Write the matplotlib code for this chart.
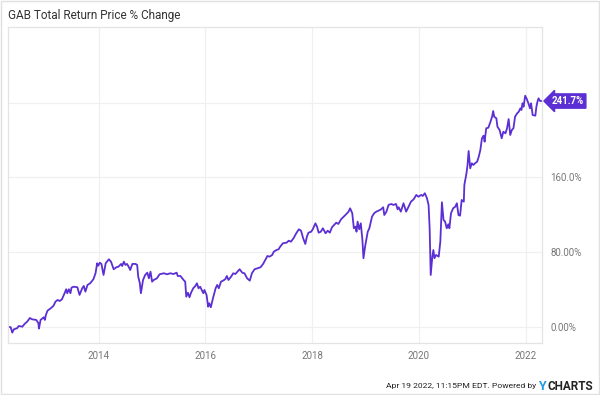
import matplotlib
matplotlib.use("Agg")
import matplotlib.pyplot as plt
import matplotlib.transforms as mtransforms
from matplotlib.patches import Rectangle

# decimal year / total return % change
years = [
    2012.30, 2012.35, 2012.38, 2012.41, 2012.47, 2012.50, 2012.57, 2012.61, 2012.66, 2012.71,
    2012.75, 2012.83, 2012.87, 2012.88, 2012.91, 2012.97, 2012.99, 2013.01, 2013.04, 2013.10,
    2013.15, 2013.19, 2013.23, 2013.27, 2013.31, 2013.36, 2013.39, 2013.41, 2013.44, 2013.47,
    2013.49, 2013.53, 2013.60, 2013.64, 2013.69, 2013.72, 2013.75, 2013.79, 2013.84, 2013.90,
    2013.94, 2013.97, 2013.99, 2014.02, 2014.05, 2014.09, 2014.13, 2014.19, 2014.23, 2014.28,
    2014.33, 2014.37, 2014.42, 2014.44, 2014.47, 2014.50, 2014.53, 2014.56, 2014.59, 2014.63,
    2014.69, 2014.72, 2014.74, 2014.77, 2014.79, 2014.83, 2014.87, 2014.91, 2014.94, 2014.97,
    2015.00, 2015.03, 2015.09, 2015.14, 2015.22, 2015.28, 2015.34, 2015.40, 2015.46, 2015.48,
    2015.53, 2015.59, 2015.62, 2015.64, 2015.67, 2015.70, 2015.73, 2015.77, 2015.81, 2015.84,
    2015.87, 2015.90, 2015.96, 2015.98, 2016.02, 2016.05, 2016.07, 2016.10, 2016.14, 2016.19,
    2016.22, 2016.25, 2016.29, 2016.33, 2016.37, 2016.40, 2016.43, 2016.48, 2016.52, 2016.56,
    2016.60, 2016.64, 2016.69, 2016.73, 2016.78, 2016.83, 2016.87, 2016.92, 2016.97, 2017.03,
    2017.08, 2017.12, 2017.16, 2017.20, 2017.25, 2017.28, 2017.33, 2017.37, 2017.40, 2017.45,
    2017.52, 2017.56, 2017.60, 2017.65, 2017.70, 2017.75, 2017.79, 2017.83, 2017.87, 2017.90,
    2017.93, 2017.98, 2018.01, 2018.06, 2018.09, 2018.12, 2018.16, 2018.20, 2018.25, 2018.29,
    2018.33, 2018.37, 2018.41, 2018.45, 2018.49, 2018.54, 2018.59, 2018.64, 2018.68, 2018.71,
    2018.75, 2018.78, 2018.81, 2018.83, 2018.85, 2018.88, 2018.91, 2018.94, 2018.96, 2018.99,
    2019.04, 2019.07, 2019.12, 2019.16, 2019.20, 2019.24, 2019.29, 2019.33, 2019.35, 2019.39,
    2019.43, 2019.48, 2019.52, 2019.57, 2019.60, 2019.62, 2019.66, 2019.71, 2019.76, 2019.81,
    2019.85, 2019.90, 2019.95, 2019.99, 2020.04, 2020.07, 2020.11, 2020.15, 2020.18, 2020.20,
    2020.22, 2020.25, 2020.27, 2020.29, 2020.32, 2020.37, 2020.40, 2020.43, 2020.46, 2020.49,
    2020.52, 2020.55, 2020.57, 2020.60, 2020.64, 2020.68, 2020.71, 2020.74, 2020.77, 2020.80,
    2020.84, 2020.85, 2020.89, 2020.91, 2020.93, 2020.96, 2020.99, 2021.02, 2021.05, 2021.09,
    2021.12, 2021.15, 2021.18, 2021.21, 2021.23, 2021.26, 2021.30, 2021.34, 2021.37, 2021.39,
    2021.41, 2021.45, 2021.47, 2021.51, 2021.55, 2021.58, 2021.62, 2021.65, 2021.68, 2021.71,
    2021.74, 2021.77, 2021.80, 2021.84, 2021.87, 2021.90, 2021.92, 2021.94, 2021.96, 2021.99,
    2022.02, 2022.05, 2022.08, 2022.10, 2022.13, 2022.18, 2022.20, 2022.22, 2022.24, 2022.27,
    2022.30,
]
pct_change = [
    0.0, -0.6, -6.4, -2.8, -1.7, 0.7, 0.0, 2.9, 5.4, 9.3,
    7.9, 7.2, 3.6, -2.1, 7.2, 10.1, 7.2, 12.5, 17.1, 19.7,
    22.2, 26.8, 28.6, 27.5, 29.3, 35.8, 40.1, 35.8, 40.1, 35.8,
    41.8, 42.8, 42.2, 34.0, 41.1, 43.6, 37.5, 44.7, 46.5, 50.8,
    57.2, 67.9, 65.3, 68.5, 67.2, 55.4, 67.9, 72.2, 69.6, 61.5,
    63.6, 64.3, 67.2, 65.0, 69.6, 66.1, 67.2, 64.3, 60.7, 67.2,
    67.2, 66.1, 53.6, 46.5, 35.8, 50.0, 55.4, 57.8, 51.8, 58.9,
    48.2, 50.0, 51.8, 56.1, 57.2, 56.1, 57.2, 56.4, 57.8, 54.3,
    54.3, 50.0, 48.2, 32.1, 36.4, 31.5, 36.4, 41.1, 43.6, 46.5,
    41.1, 42.8, 35.8, 39.3, 34.0, 21.4, 25.1, 20.8, 30.4, 41.1,
    44.7, 41.1, 48.2, 49.3, 50.8, 54.3, 50.0, 53.6, 57.2, 56.4,
    58.9, 61.5, 57.8, 57.2, 51.8, 49.3, 57.2, 61.5, 62.5, 63.6,
    67.2, 71.4, 75.7, 75.0, 76.8, 80.3, 82.1, 82.9, 85.7, 89.3,
    90.0, 92.1, 91.0, 94.7, 100.0, 104.3, 102.8, 94.7, 88.6, 96.4,
    100.7, 101.7, 104.3, 110.7, 107.1, 100.7, 101.7, 105.4, 100.0, 102.8,
    100.7, 106.5, 108.9, 111.4, 110.0, 115.0, 117.8, 120.7, 123.2, 126.8,
    121.5, 105.4, 107.1, 101.7, 112.5, 104.3, 110.7, 92.9, 73.3, 85.7,
    101.7, 105.4, 117.8, 121.5, 123.2, 124.2, 125.7, 127.9, 119.6, 123.2,
    130.4, 131.4, 130.4, 131.4, 125.7, 127.9, 123.2, 132.2, 123.2, 129.3,
    133.9, 136.4, 141.1, 139.2, 141.1, 140.0, 142.9, 137.5, 130.3, 105.4,
    55.4, 75.0, 82.1, 73.3, 76.8, 75.0, 91.0, 133.2, 114.3, 112.5,
    105.4, 109.7, 105.4, 121.5, 126.8, 128.5, 132.2, 119.6, 118.9, 135.7,
    133.9, 151.8, 164.3, 173.2, 188.2, 169.6, 175.0, 173.2, 175.0, 176.7,
    182.1, 189.3, 201.8, 204.6, 198.1, 212.5, 213.1, 219.6, 224.9, 231.0,
    224.9, 223.2, 214.2, 210.7, 201.8, 208.8, 207.1, 212.5, 222.4, 205.3,
    210.7, 212.5, 224.9, 228.6, 230.3, 233.9, 232.1, 239.3, 235.6, 247.4,
    243.9, 239.3, 233.9, 239.3, 226.7, 226.0, 235.6, 241.0, 244.6, 241.7,
    241.7,
]

x_ticks = [2014, 2016, 2018, 2020, 2022]
y_ticks = [0, 80, 160, 240]
y_labels = ["0.00%", "80.00%", "160.0%", ""]
last_value = 241.7

line_color = "#5b2fd3"
grid_color = "#f0f0f0"
text_grey = "#777777"

plt.rcParams["font.family"] = ["Roboto", "DejaVu Sans"]

fig = plt.figure(figsize=(6, 3.95), dpi=100)
ax = fig.add_axes([8 / 600, 1 - 343 / 395, 534 / 600, 316 / 395])

ax.plot(years, pct_change, color=line_color, lw=1.3, solid_joinstyle="round")

ax.set_xlim(2012.30, 2022.305)
ax.set_ylim(-17.5, 321)
ax.set_xticks(x_ticks)
ax.set_xticklabels([str(y) for y in x_ticks])
ax.set_yticks(y_ticks)
ax.set_yticklabels(y_labels)
ax.yaxis.tick_right()
ax.tick_params(axis="both", length=0, labelsize=7, colors=text_grey)
ax.tick_params(axis="y", pad=6)
ax.tick_params(axis="x", pad=6)
ax.grid(True, color=grid_color, lw=0.9)
ax.set_axisbelow(True)
for s in ax.spines.values():
    s.set_color("#e4e4e4")
    s.set_linewidth(0.9)

# last value badge
trans = mtransforms.blended_transform_factory(ax.transAxes, ax.transData)
ax.text(1.018, last_value, f"{last_value}%", transform=trans, ha="left", va="center",
        color="white", fontsize=7, fontweight="bold",
        bbox=dict(boxstyle="larrow,pad=0.22", fc=line_color, ec=line_color))

fig.text(8 / 600, 1 - 16 / 395, "GAB Total Return Price % Change", fontsize=8.5,
         color="#333333", va="center", ha="left")

fig.text(536 / 600, 1 - 386 / 395, "Apr 19 2022, 11:15PM EDT. Powered by", fontsize=6.1,
         color="#222222", va="center", ha="right")
fig.text(538 / 600, 1 - 386 / 395, "Y", fontsize=9, color="#1e9be0",
         fontweight="bold", va="center", ha="left")
fig.text(593 / 600, 1 - 386 / 395, "CHARTS", fontsize=8.5, color="#222222",
         fontweight="bold", va="center", ha="right")

# outer border
fig.patches.append(Rectangle((0.001, 0.002), 0.997, 0.996, transform=fig.transFigure,
                             fill=False, ec="#e0e0e0", lw=1))

fig.savefig("out.png", dpi=100)
